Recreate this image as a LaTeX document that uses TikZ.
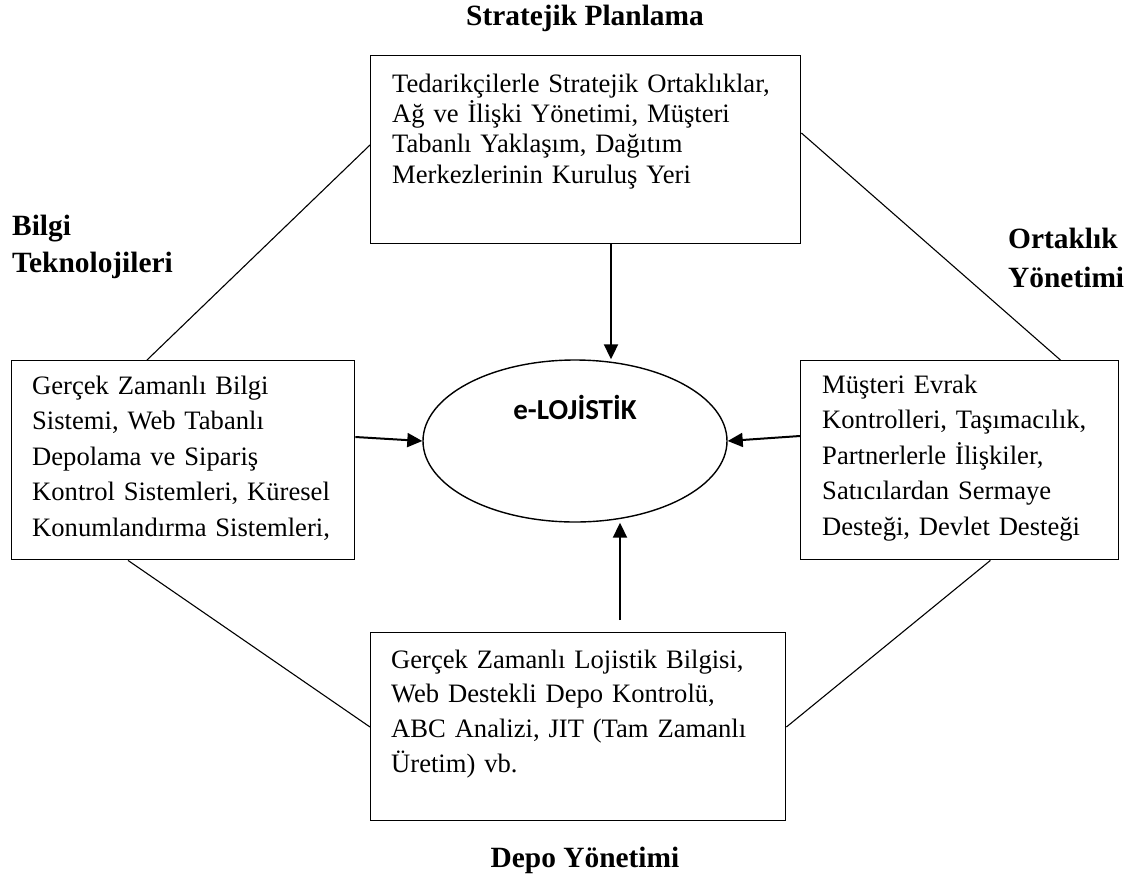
\documentclass[tikz,border=0pt]{standalone}
\usepackage{fontspec}
\setmainfont{Liberation Serif}
\newfontfamily\calfont{Carlito}
\usetikzlibrary{arrows.meta,shapes.geometric}

\tikzset{
  frame/.style={draw, line width=1.4pt, rectangle, inner sep=0pt, anchor=north west},
  body/.style={anchor=base west, inner sep=0pt, align=left,
    font=\fontsize{26.6}{35.5}\selectfont},
  heading/.style={inner sep=0pt, font=\fontsize{29.4}{38}\selectfont\bfseries},
  link/.style={line width=1.1pt},
  feed/.style={line width=2pt, -{Triangle[length=15pt,width=14pt]}},
}

\begin{document}
\begin{tikzpicture}[x=1pt,y=-1pt]
  \useasboundingbox (0,0) rectangle (1143,876);

  % frames
  \node[frame, minimum width=430pt, minimum height=188pt] (tbox) at (370,55) {};
  \node[frame, minimum width=343pt, minimum height=199pt] (lbox) at (11,360) {};
  \node[frame, minimum width=318pt, minimum height=199pt] (rbox) at (800,360) {};
  \node[frame, minimum width=415pt, minimum height=188pt] (bbox) at (370,632) {};

  % centre
  \node[draw, ellipse, line width=1.4pt, minimum width=304pt, minimum height=162pt,
        inner sep=0pt] (core) at (575,441) {};
  \node[anchor=base, inner sep=0pt, font=\calfont\fontsize{29}{32}\selectfont\bfseries]
        (coretxt) at (575,419) {e-LOJİSTİK};

  % texts inside frames
  \node[body, text width=389pt, font=\fontsize{26.6}{30.4}\selectfont] (ttxt) at (392,92)
    {\makebox[389pt][s]{Tedarikçilerle Stratejik Ortaklıklar,}\\
     \makebox[389pt][s]{Ağ ve İlişki Yönetimi, Müşteri}\\
     \makebox[389pt][s]{Tabanlı Yaklaşım, Dağıtım}\\
     Merkezlerinin Kuruluş Yeri};
  \node[body, text width=320pt] (ltxt) at (32,394)
    {Gerçek Zamanlı Bilgi\\ Sistemi, Web Tabanlı\\ Depolama ve Sipariş\\
     Kontrol Sistemleri, Küresel\\ Konumlandırma Sistemleri,};
  \node[body, text width=295pt] (rtxt) at (822,393)
    {Müşteri Evrak\\ Kontrolleri, Taşımacılık,\\ Partnerlerle İlişkiler,\\
     Satıcılardan Sermaye\\ Desteği, Devlet Desteği};
  \node[body, text width=390pt, font=\fontsize{26.6}{34.7}\selectfont] (btxt) at (391,668)
    {Gerçek Zamanlı Lojistik Bilgisi,\\ Web Destekli Depo Kontrolü,\\
     ABC Analizi, JIT (Tam Zamanlı\\ Üretim) vb.};

  % headings
  \node[heading, anchor=base] (hplan) at (585,25) {Stratejik Planlama};
  \node[heading, anchor=base west, align=left, text width=200pt,
        font=\fontsize{29.4}{37}\selectfont\bfseries] (hbilgi) at (12,235)
    {Bilgi\\ Teknolojileri};
  \node[heading, anchor=base west, align=left, text width=140pt,
        font=\fontsize{29.4}{39}\selectfont\bfseries] (hortak) at (1008,248)
    {Ortaklık\\ Yönetimi};
  \node[heading, anchor=base] (hdepo) at (585,867) {Depo Yönetimi};

  % frame-to-frame links
  \draw[link] ([xshift=136pt]lbox.north west) -- ([yshift=-90pt]tbox.north west);
  \draw[link] ([yshift=-78pt]tbox.north east) -- ([xshift=-59pt]rbox.north east);
  \draw[link] ([xshift=117pt]lbox.south west) -- ([yshift=-95pt]bbox.north west);
  \draw[link] ([yshift=-95pt]bbox.north east) -- ([xshift=-129pt]rbox.south east);

  % arrows into the centre
  \coordinate (tstart) at ([xshift=241pt]tbox.south west);
  \draw[feed] (tstart) -- (tstart |- core.north);
  \draw[feed] ([yshift=-77pt]lbox.north east) -- (core.west);
  \draw[feed] ([yshift=-76pt]rbox.north west) -- (core.east);
  \coordinate (bstart) at (620,620);
  \draw[feed] (bstart) -- (bstart |- core.south);
\end{tikzpicture}
\end{document}
